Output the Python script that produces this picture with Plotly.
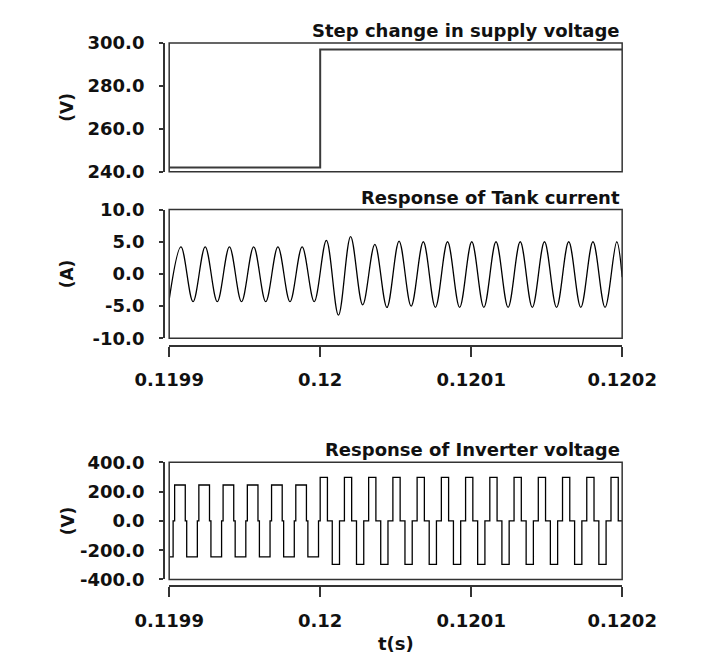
import plotly.graph_objects as go

# ---------------- data ----------------
T0 = 0.1199  # s, left end of the time window

# Step change in supply voltage (time offsets in microseconds from T0, volts)
supply_t_us = [0.0, 100.0, 300.0]
supply_v = [242.0, 297.0, 297.0]

# Tank current: start value, then alternating peaks / troughs, end value (us, A)
current_t_us = [0.0, 7.8, 15.8, 23.85, 31.85, 39.9, 47.9, 55.95, 63.95, 72.0, 80.0,
                88.05, 96.05, 104.1, 112.1, 120.15, 128.15, 136.2, 144.2, 152.25, 160.25,
                168.3, 176.3, 184.35, 192.35, 200.4, 208.4, 216.45, 224.45, 232.5, 240.5,
                248.55, 256.55, 264.6, 272.6, 280.65, 288.65, 296.4, 300.0]
current_a = [-4.0, 4.2, -4.3, 4.2, -4.3, 4.2, -4.3, 4.2, -4.3, 4.2, -4.3,
             4.2, -4.3, 5.2, -6.4, 5.8, -4.8, 4.6, -5.2, 5.1, -5.0,
             5.0, -5.2, 5.0, -5.2, 5.0, -5.2, 5.0, -5.2, 5.0, -5.2,
             5.0, -5.2, 5.0, -5.2, 5.0, -5.2, 5.0, -0.5]

# Inverter voltage: switching instants per cycle (us) and level per cycle (V)
inv_start_low_end_us = 2.6
inv_rise_us = [3.6, 19.65, 35.7, 51.75, 67.8, 83.85, 100.0, 116.05, 132.1, 148.15,
               164.2, 180.25, 196.3, 212.35, 228.4, 244.45, 260.5, 276.55, 292.6]
inv_high_end_us = [10.65, 26.7, 42.75, 58.8, 74.85, 90.9, 104.8, 120.85, 136.9, 152.95,
                   169.0, 185.05, 201.1, 217.15, 233.2, 249.25, 265.3, 281.35, 297.4]
inv_low_start_us = [11.6, 27.65, 43.7, 59.75, 75.8, 91.85, 108.0, 124.05, 140.1, 156.15,
                    172.2, 188.25, 204.3, 220.35, 236.4, 252.45, 268.5, 284.55]
inv_low_end_us = [18.65, 34.7, 50.75, 66.8, 82.85, 98.9, 112.8, 128.85, 144.9, 160.95,
                  177.0, 193.05, 209.1, 225.15, 241.2, 257.25, 273.3, 289.35]
inv_level = [245, 245, 245, 245, 245, 245, 297, 297, 297, 297,
             297, 297, 297, 297, 297, 297, 297, 297, 297]

x_tickvals = [0.1199, 0.12, 0.1201, 0.1202]
x_ticktext = ["0.1199", "0.12", "0.1201", "0.1202"]
y1_tickvals = [240, 260, 280, 300]
y1_ticktext = ["240.0", "260.0", "280.0", "300.0"]
y2_tickvals = [-10, -5, 0, 5, 10]
y2_ticktext = ["-10.0", "-5.0", "0.0", "5.0", "10.0"]
y3_tickvals = [-400, -200, 0, 200, 400]
y3_ticktext = ["-400.0", "-200.0", "0.0", "200.0", "400.0"]

titles = ["Step change in supply voltage", "Response of Tank current",
          "Response of Inverter voltage"]
y_labels = ["(V)", "(A)", "(V)"]

# ---------------- build series ----------------
def to_s(us_list):
    return [T0 + u * 1e-6 for u in us_list]

inv_t_us = [0.0, inv_start_low_end_us]
inv_v = [-inv_level[0], 0]
for i, r in enumerate(inv_rise_us):
    inv_t_us += [r, inv_high_end_us[i]]
    inv_v += [inv_level[i], 0]
    if i < len(inv_low_start_us):
        inv_t_us += [inv_low_start_us[i], inv_low_end_us[i]]
        inv_v += [-inv_level[i], 0]
inv_t_us.append(300.0)
inv_v.append(0)

# ---------------- layout geometry ----------------
W, H = 704, 666
def fx(p):
    return p / W
def fy(p):
    return 1 - p / H

XL, XR = 149, 652
YAX = 143
panels = [(33, 166), (205, 338), (466, 587)]
title_y = [20, 193, 453]
xaxis_y = [None, 346, 594]

FONT = "DejaVu Sans, Verdana, sans-serif"
AXC = "#333333"
TXT = "#111111"

fig = go.Figure()
fig.add_trace(go.Scatter(x=to_s(supply_t_us), y=supply_v, mode="lines",
                         line=dict(color="#3a3a3a", width=2, shape="hv"),
                         xaxis="x", yaxis="y", showlegend=False))
fig.add_trace(go.Scatter(x=to_s(current_t_us), y=current_a, mode="lines",
                         line=dict(color="#000000", width=1.3, shape="spline", smoothing=1),
                         xaxis="x2", yaxis="y2", showlegend=False))
fig.add_trace(go.Scatter(x=to_s(inv_t_us), y=inv_v, mode="lines",
                         line=dict(color="#000000", width=1.3, shape="hv"),
                         xaxis="x3", yaxis="y3", showlegend=False))

xr = [0.1199, 0.1202]
tickfont = dict(family=FONT, size=18, color=TXT, weight="bold")

layout = dict(width=W, height=H, margin=dict(l=0, r=0, t=0, b=0),
              paper_bgcolor="white", plot_bgcolor="white", showlegend=False)

ytick = [(y1_tickvals, y1_ticktext, [240, 300]),
         (y2_tickvals, y2_ticktext, [-10, 10]),
         (y3_tickvals, y3_ticktext, [-400, 400])]

shapes = []
annotations = []
for i in range(3):
    sx = "" if i == 0 else str(i + 1)
    top, bot = panels[i]
    xa = dict(domain=[fx(XL), fx(XR)], range=xr, showgrid=False, zeroline=False)
    if i == 0:
        xa.update(showline=False, showticklabels=False, ticks="", anchor="y")
    else:
        xa.update(anchor="free", position=fy(xaxis_y[i]), showline=True, linecolor=AXC,
                  linewidth=1.5, ticks="outside", ticklen=10, tickwidth=1.5, tickcolor=AXC,
                  tickvals=x_tickvals, ticktext=x_ticktext, tickfont=tickfont,
                  ticklabelstandoff=8)
    layout["xaxis" + sx] = xa
    tv, tt, rg = ytick[i]
    layout["yaxis" + sx] = dict(domain=[fy(bot), fy(top)], range=rg, anchor="free",
                                position=fx(YAX), showline=True, linecolor=AXC, linewidth=1.5,
                                ticks="outside", ticklen=4, tickwidth=1.5, tickcolor=AXC,
                                tickvals=tv, ticktext=tt, tickfont=tickfont,
                                showgrid=False, zeroline=False, ticklabelstandoff=11)
    shapes.append(dict(type="rect", xref="x" + sx + " domain", yref="y" + sx + " domain",
                       x0=0, x1=1, y0=0, y1=1, line=dict(color=AXC, width=1.5),
                       fillcolor="rgba(0,0,0,0)", layer="above"))
    annotations.append(dict(text=titles[i], x=fx(XR), y=fy(title_y[i]), xref="paper",
                            yref="paper", xanchor="right", yanchor="middle", showarrow=False,
                            font=dict(family=FONT, size=18, color=TXT, weight="bold")))
    annotations.append(dict(text=y_labels[i], x=fx(36), y=fy((top + bot) / 2), xref="paper",
                            yref="paper", xanchor="center", yanchor="middle", showarrow=False,
                            textangle=-90,
                            font=dict(family=FONT, size=17, color=TXT, weight="bold")))

annotations.append(dict(text="t(s)", x=fx((XL + XR) / 2), y=fy(653), xref="paper", yref="paper",
                        xanchor="center", yanchor="middle", showarrow=False,
                        font=dict(family=FONT, size=18, color=TXT, weight="bold")))
layout["shapes"] = shapes
layout["annotations"] = annotations
fig.update_layout(**layout)
fig.write_html("out.html")
